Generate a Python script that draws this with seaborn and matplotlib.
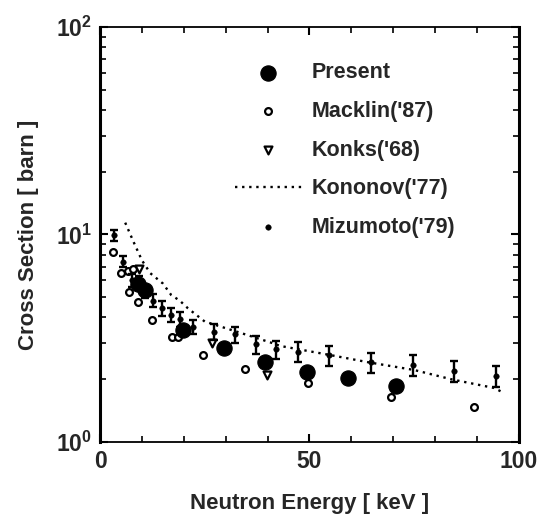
import matplotlib
matplotlib.use("Agg")
import matplotlib.pyplot as plt
import seaborn as sns
import numpy as np
from matplotlib.ticker import FixedLocator, MultipleLocator, LogLocator, NullFormatter

# --- data ---
present_e = [9.0, 10.7, 19.8, 29.6, 39.4, 49.5, 59.2, 70.7]
present_xs = [5.8, 5.4, 3.46, 2.82, 2.43, 2.17, 2.03, 1.86]

macklin_e = [3.1, 5.0, 6.7, 7.9, 7.0, 9.0, 12.4, 17.2, 18.6, 24.6, 34.6, 49.6, 69.5, 89.3]
macklin_xs = [8.2, 6.5, 6.7, 6.8, 5.3, 4.7, 3.87, 3.2, 3.2, 2.62, 2.25, 1.92, 1.65, 1.47]

konks_e = [9.3, 26.7, 39.9]
konks_xs = [6.8, 3.0, 2.10]

kononov_e = [6.0, 8.0, 10.0, 12.0, 15.0, 17.0, 19.0, 21.0, 25.0, 33.0, 41.0, 43.0,
             55.0, 64.0, 75.0, 84.0, 94.0, 96.0]
kononov_xs = [11.4, 9.2, 7.5, 6.5, 5.8, 5.1, 4.8, 4.4, 3.8, 3.38, 3.0, 2.9,
              2.62, 2.42, 2.22, 2.0, 1.82, 1.74]

mizumoto_e = [3.3, 5.5, 7.6, 9.3, 10.7, 12.6, 14.8, 17.0, 19.0, 22.2, 27.2, 32.2,
              37.2, 42.0, 47.3, 54.7, 64.7, 74.7, 84.5, 94.5]
mizumoto_xs = [9.9, 7.4, 6.0, 5.9, 5.3, 4.8, 4.4, 4.1, 3.9, 3.58, 3.4, 3.3,
               2.95, 2.8, 2.72, 2.62, 2.42, 2.35, 2.2, 2.08]
mizumoto_err = [6, 6, 7, 7, 7, 7, 8, 8, 8, 8, 9, 9, 10, 10, 11, 11, 11, 12, 12, 12]  # percent

sns.set_style("ticks")
plt.rcParams["font.family"] = ["Liberation Sans", "DejaVu Sans"]
plt.rcParams["font.weight"] = "bold"
plt.rcParams["mathtext.fontset"] = "custom"
plt.rcParams["mathtext.bf"] = "Liberation Sans:bold"
plt.rcParams["mathtext.rm"] = "Liberation Sans:bold"

fig = plt.figure(figsize=(5.41, 5.21), dpi=100)
ax = fig.add_axes([0.185, 0.152, 0.774, 0.796])

sns.lineplot(x=kononov_e, y=kononov_xs, ax=ax, color="black", lw=1.7,
             linestyle=(0, (1, 2)), label="Kononov('77)")

m_y = np.array(mizumoto_xs)
m_e = np.array(mizumoto_err) / 100.0
ax.errorbar(mizumoto_e, m_y, yerr=[m_y * m_e, m_y * m_e], fmt="none",
            ecolor="black", elinewidth=1.7, capsize=3, capthick=1.7)
sns.scatterplot(x=mizumoto_e, y=mizumoto_xs, ax=ax, color="black", marker="o",
                s=16, edgecolor="black", label="Mizumoto('79)")

sns.scatterplot(x=macklin_e, y=macklin_xs, ax=ax, marker="o", s=24,
                facecolor="white", edgecolor="black", linewidth=1.6,
                label="Macklin('87)")
sns.scatterplot(x=konks_e, y=konks_xs, ax=ax, marker="v", s=32,
                facecolor="white", edgecolor="black", linewidth=1.6,
                label="Konks('68)")
sns.scatterplot(x=present_e, y=present_xs, ax=ax, marker="o", s=120,
                color="black", edgecolor="black", label="Present")

ax.set_yscale("log")
ax.set_xlim(0, 100)
ax.set_ylim(1, 100)

ax.xaxis.set_major_locator(FixedLocator([0, 50, 100]))
ax.xaxis.set_minor_locator(MultipleLocator(10))
ax.set_xticklabels(["0", "50", "100"])
ax.yaxis.set_major_locator(FixedLocator([1, 10, 100]))
ax.yaxis.set_minor_locator(LogLocator(base=10, subs=np.arange(2, 10)))
ax.yaxis.set_minor_formatter(NullFormatter())
ax.set_yticklabels([r"$\mathbf{10^{0}}$", r"$\mathbf{10^{1}}$", r"$\mathbf{10^{2}}$"])

ax.tick_params(which="both", direction="in", top=True, right=True,
               labelsize=16.5, color="black")
ax.tick_params(which="major", length=6, width=1.5, pad=6)
ax.tick_params(which="minor", length=4, width=1.2)
for t in ax.get_xticklabels() + ax.get_yticklabels():
    t.set_fontweight("bold")

for side in ["left", "right"]:
    ax.spines[side].set_linewidth(2.2)
for side in ["top", "bottom"]:
    ax.spines[side].set_linewidth(1.3)
for s in ax.spines.values():
    s.set_color("black")

ax.set_xlabel("Neutron Energy [ keV ]", fontsize=16, fontweight="bold", labelpad=14)
ax.set_ylabel("Cross Section [ barn ]", fontsize=16, fontweight="bold", labelpad=12)

handles, labels = ax.get_legend_handles_labels()
order = ["Present", "Macklin('87)", "Konks('68)", "Kononov('77)", "Mizumoto('79)"]
hmap = dict(zip(labels, handles))
ax.legend([hmap[k] for k in order], order, loc="upper left",
          bbox_to_anchor=(0.322, 0.915), frameon=False,
          handlelength=3.1, handletextpad=0.45, labelspacing=0.82,
          borderpad=0, borderaxespad=0,
          prop={"weight": "bold", "size": 15.5})

fig.savefig("out.png", dpi=100)
